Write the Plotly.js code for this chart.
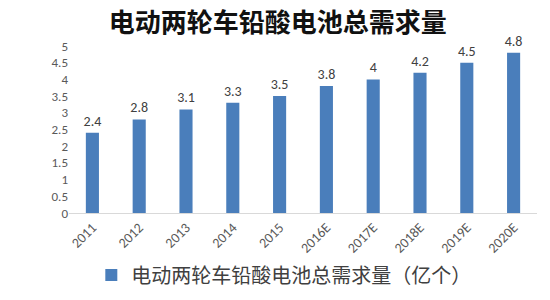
<!DOCTYPE html>
<html>
<head>
<meta charset="utf-8">
<script src="https://cdn.plot.ly/plotly-3.0.1.min.js"></script>
<style>html,body{margin:0;padding:0;background:#fff;}#chart{width:550px;height:300px;}</style>
</head>
<body>
<div id="chart"></div>
<script>
var categories = ["2011","2012","2013","2014","2015","2016E","2017E","2018E","2019E","2020E"];
var demand = [2.4, 2.8, 3.1, 3.3, 3.5, 3.8, 4, 4.2, 4.5, 4.8];
var seriesName = "电动两轮车铅酸电池总需求量（亿个）";
var chartTitle = "电动两轮车铅酸电池总需求量";
var yTicks = [0, 0.5, 1, 1.5, 2, 2.5, 3, 3.5, 4, 4.5, 5];

var font = "'Noto Sans CJK SC', 'Noto Sans', sans-serif";
var numFont = "Calibri, Carlito, 'Liberation Sans', sans-serif";
var trace = {
  type: "bar",
  x: categories,
  y: demand,
  name: seriesName,
  marker: {color: "#4a7ebb"},
  text: demand.map(String),
  textposition: "outside",
  constraintext: "none",
  cliponaxis: false,
  textfont: {family: numFont, size: 14, color: "#404040"},
  showlegend: true
};
var layout = {
  width: 550, height: 300,
  margin: {l: 69, r: 13, t: 46, b: 87, autoexpand: false},
  paper_bgcolor: "#fff", plot_bgcolor: "#fff",
  bargap: 0.72,
  title: {text: chartTitle, x: 0.505, xanchor: "center", y: 0.925, yanchor: "middle",
          font: {family: font, size: 26, color: "#111", weight: "bold"}},
  xaxis: {type: "category", tickangle: -45, showgrid: false, showline: true, linecolor: "#d9d9d9",
          automargin: false, ticks: "", tickfont: {family: numFont, size: 14, color: "#595959"}},
  yaxis: {range: [0, 5], tickvals: yTicks, ticktext: yTicks.map(String), showgrid: false, zeroline: false,
          automargin: false, showline: false, ticks: "", tickfont: {family: numFont, size: 13, color: "#595959"}},
  showlegend: true,
  legend: {orientation: "h", x: 0.459, xanchor: "center", yref: "container", y: 0.083, yanchor: "middle",
           font: {family: font, size: 20, color: "#404040"}, itemwidth: 30}
};
Plotly.newPlot("chart", [trace], layout, {displayModeBar: false, staticPlot: true});
</script>
</body>
</html>
